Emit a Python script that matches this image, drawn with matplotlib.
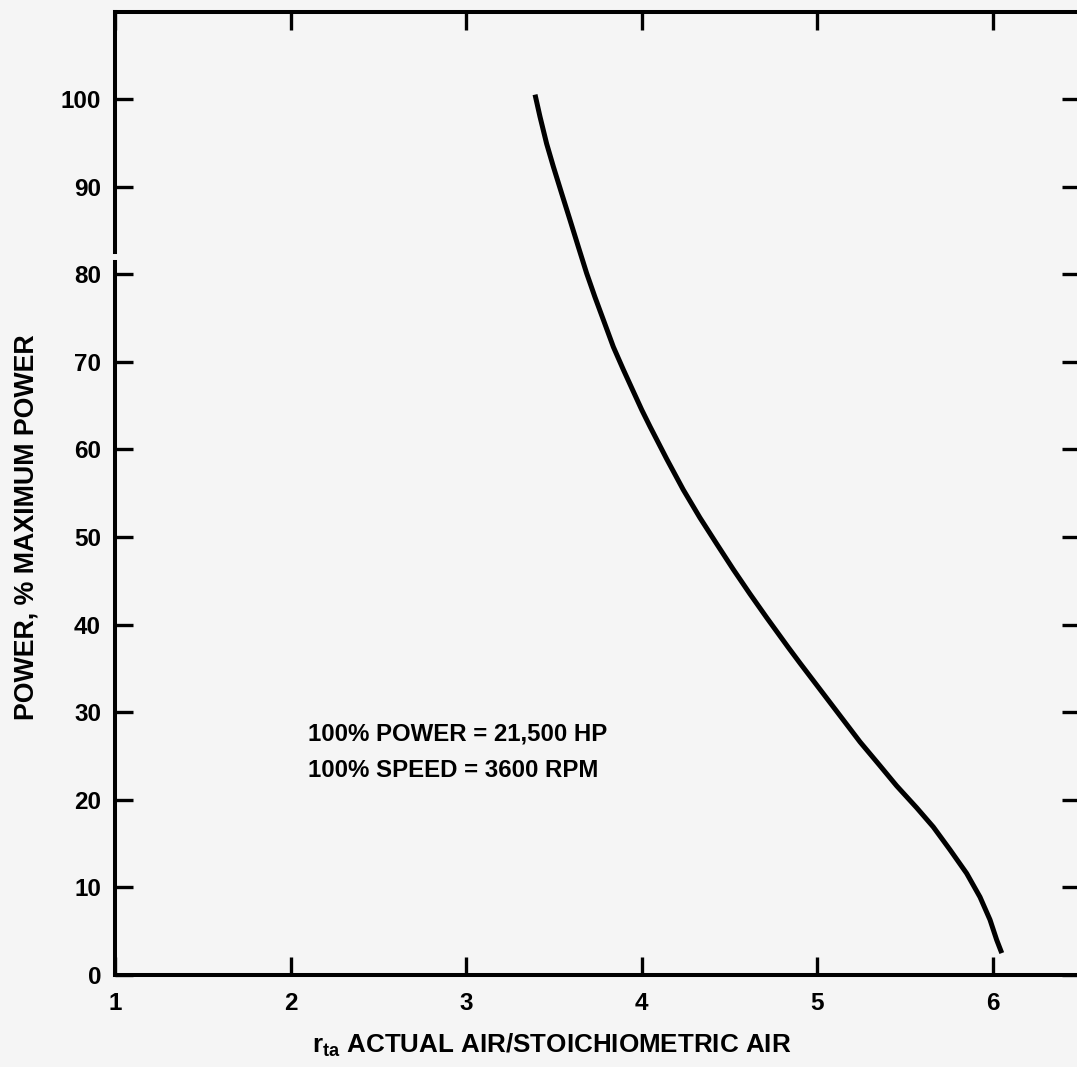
import numpy as np
import matplotlib
matplotlib.use("Agg")
import matplotlib.pyplot as plt

# curve: excess air ratio vs % power
r_ta = [3.392, 3.420, 3.458, 3.496, 3.544, 3.591, 3.639, 3.686, 3.733, 3.781,
        3.838, 3.895, 3.952, 4.000, 4.047, 4.142, 4.236, 4.331,
        4.427, 4.521, 4.616, 4.711, 4.834, 4.901, 5.015, 5.129, 5.243, 5.356,
        5.451, 5.565, 5.660, 5.755, 5.850, 5.926, 5.983, 6.021, 6.050]
power = [100.5, 98.0, 94.9, 92.3, 89.2, 86.2, 83.1, 80.1, 77.4, 74.8,
         71.7, 69.1, 66.6, 64.5, 62.6, 58.9, 55.4, 52.2,
         49.2, 46.3, 43.5, 40.8, 37.4, 35.6, 32.6, 29.6, 26.6, 23.9,
         21.6, 19.1, 16.9, 14.3, 11.6, 8.9, 6.3, 4.0, 2.5]

x_ticks = [1, 2, 3, 4, 5, 6]
y_ticks = [0, 10, 20, 30, 40, 50, 60, 70, 80, 90, 100]
note_lines = ["100% POWER = 21,500 HP", "100% SPEED = 3600 RPM"]

plt.rcParams['font.family'] = ['Liberation Sans', 'DejaVu Sans']
plt.rcParams['font.weight'] = 'bold'
plt.rcParams['mathtext.fontset'] = 'custom'
plt.rcParams['mathtext.rm'] = 'Liberation Sans:bold'
plt.rcParams['mathtext.it'] = 'Liberation Sans:bold'

bg = '#f5f5f5'
fig = plt.figure(figsize=(10.77, 10.67), dpi=100, facecolor=bg)
ax = fig.add_axes([115 / 1077, 92 / 1067, 965 / 1077, 963 / 1067], facecolor=bg)

ax.plot(r_ta, power, color='black', lw=3.6, solid_capstyle='butt', solid_joinstyle='round')

ax.set_xlim(1, 1 + 965 / 175.6)
ax.set_ylim(0, 963 / 8.76)

for side in ['top', 'right', 'bottom']:
    ax.spines[side].set_linewidth(2.9)
ax.spines['left'].set_visible(False)
# left axis line has a small break just above 80
ax.axvline(1, 0, 81.4 / ax.get_ylim()[1], color='black', lw=2.9, clip_on=False)
ax.axvline(1, 82.5 / ax.get_ylim()[1], 1, color='black', lw=2.9, clip_on=False)

ax.set_xticks(x_ticks)
ax.set_yticks(y_ticks)
ax.set_xticklabels([str(v) for v in x_ticks])
ax.set_yticklabels([str(v) for v in y_ticks])
ax.tick_params(axis='both', direction='in', length=13, width=2.4, labelsize=17.5,
               top=True, right=True, labeltop=False, labelright=False)
ax.tick_params(axis='x', pad=12)
ax.tick_params(axis='y', pad=10)

fig.text(27 / 1077, 1 - 527 / 1067, "POWER, % MAXIMUM POWER", rotation=90,
         ha='center', va='center', fontsize=19.3, fontweight='bold')
fig.text(552 / 1077, 1 - 1045 / 1067,
         r"r$_{\mathrm{ta}}$ ACTUAL AIR/STOICHIOMETRIC AIR",
         ha='center', va='center', fontsize=18.7, fontweight='bold')

ax.text(2.10, 27.5, note_lines[0], fontsize=17.3, fontweight='bold', va='center', ha='left')
ax.text(2.10, 23.4, note_lines[1], fontsize=17.3, fontweight='bold', va='center', ha='left')

fig.savefig('out.png', dpi=100, facecolor=bg)
